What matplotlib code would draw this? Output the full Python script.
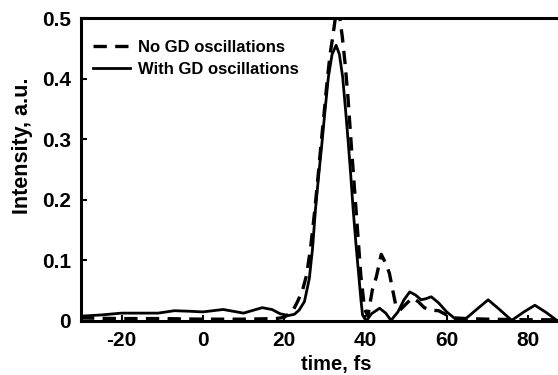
import numpy as np
import matplotlib.pyplot as plt

plt.rcParams['font.family'] = ['Liberation Sans', 'DejaVu Sans']
plt.rcParams['font.weight'] = 'bold'
plt.rcParams['axes.unicode_minus'] = False

# pulse without group-delay oscillations
t_no = [-30, -20, -10, 0, 10, 18, 20, 22, 23.3, 24.5, 25.5, 26.5, 27.5, 28.3, 29.1, 29.8, 30.5,
        31.3, 32.0, 32.6, 33.1, 33.7, 34.3, 35.0, 35.7, 36.5, 37.7, 38.9, 39.8, 40.6, 41.7, 42.7,
        43.9, 45.0, 45.9, 46.6, 47.5, 48.5, 50, 51.5, 53, 54.5, 56, 58, 60, 62, 65, 70, 80, 90]
i_no = [0.005, 0.004, 0.004, 0.003, 0.003, 0.004, 0.006, 0.015, 0.032, 0.05, 0.075, 0.12, 0.18,
        0.235, 0.293, 0.34, 0.39, 0.44, 0.47, 0.50, 0.515, 0.50, 0.47, 0.425, 0.37, 0.293, 0.183,
        0.073, 0.02, 0.008, 0.051, 0.073, 0.11, 0.095, 0.079, 0.055, 0.025, 0.018, 0.028, 0.038,
        0.032, 0.022, 0.018, 0.017, 0.01, 0.005, 0.004, 0.003, 0.002, 0.002]

# pulse with group-delay oscillations
t_gd = [-30, -25, -20, -15, -11, -7, -3, 0, 5, 10, 14.6, 17, 19, 21, 22.5, 23.7, 25, 26.2, 27,
        27.7, 28.5, 29.3, 30.1, 30.9, 31.8, 32.8, 33.6, 34.4, 35.1, 35.8, 36.4, 37.0, 37.7, 38.4,
        38.9, 39.3, 40.2, 41.5, 43.5, 45, 46.3, 48, 49.5, 50.9, 52.3, 53.7, 55, 56.2, 58, 60, 62.6,
        64.2, 67, 70.2, 73, 76, 79, 81.7, 84.5, 87.1, 90]
i_gd = [0.008, 0.010, 0.013, 0.013, 0.013, 0.017, 0.016, 0.015, 0.019, 0.013, 0.022, 0.019, 0.012,
        0.009, 0.011, 0.018, 0.032, 0.07, 0.12, 0.183, 0.24, 0.293, 0.35, 0.403, 0.44, 0.455, 0.44,
        0.403, 0.35, 0.293, 0.24, 0.183, 0.125, 0.073, 0.035, 0.01, 0.0, 0.012, 0.021, 0.013, 0.001,
        0.015, 0.035, 0.048, 0.043, 0.035, 0.037, 0.040, 0.03, 0.015, 0.001, 0.001, 0.017, 0.035,
        0.019, 0.001, 0.015, 0.026, 0.014, 0.001, 0.0]

x_ticks = [-20, 0, 20, 40, 60, 80]
y_ticks = [0, 0.1, 0.2, 0.3, 0.4, 0.5]
y_labels = ['0', '0.1', '0.2', '0.3', '0.4', '0.5']

fig = plt.figure(figsize=(5.58, 3.75), dpi=100)
ax = fig.add_axes([0.145, 0.144, 0.874, 0.808])

ax.plot(t_no, i_no, 'k--', lw=2.4, dashes=(4, 2.5), label='No GD oscillations')
ax.plot(t_gd, i_gd, 'k-', lw=2.0, label='With GD oscillations')

ax.set_xlim(-30, 90)
ax.set_ylim(0, 0.5)
ax.set_xticks(x_ticks)
ax.set_yticks(y_ticks)
ax.set_yticklabels(y_labels)
ax.tick_params(direction='in', length=4, width=1.5, labelsize=15, pad=7)
for lab in ax.get_xticklabels() + ax.get_yticklabels():
    lab.set_fontweight('bold')
for s in ax.spines.values():
    s.set_linewidth(2.2)

ax.set_xlabel('time, fs', fontsize=14.5, fontweight='bold')
ax.set_ylabel('Intensity, a.u.', fontsize=15.5, fontweight='bold')
ax.xaxis.set_label_coords(0.523, -0.112)
ax.yaxis.set_label_coords(-0.098, 0.578)

leg = ax.legend(loc='upper left', bbox_to_anchor=(0.0, 0.97), frameon=False, fontsize=12,
                handlelength=2.2, borderaxespad=0.35, labelspacing=0.45, handletextpad=0.45)
for txt in leg.get_texts():
    txt.set_fontweight('bold')

fig.savefig('out.png', dpi=100)
